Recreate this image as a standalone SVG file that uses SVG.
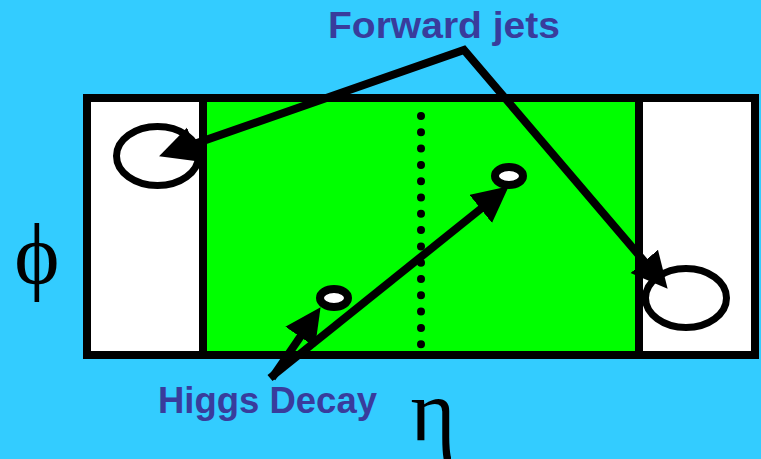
<svg xmlns="http://www.w3.org/2000/svg" width="761" height="459" viewBox="0 0 761 459">
  <style>
    .lbl { font-family: "Liberation Sans", "DejaVu Sans", sans-serif; font-weight: bold; font-size: 37px; fill: #393c9c; }
    .sym { font-family: "Liberation Serif", "DejaVu Serif", serif; font-size: 86px; fill: #000; text-anchor: middle; }
    .edge { fill: none; stroke: #000; stroke-width: 8; stroke-linejoin: miter; }
    .ring { fill: #fff; stroke: #000; stroke-width: 7; }
    .blob { fill: #fff; stroke: #000; stroke-width: 8; }
  </style>
  <defs>
    <marker id="ah" markerUnits="userSpaceOnUse" markerWidth="38" markerHeight="38" refX="15" refY="18" orient="auto-start-reverse">
      <path d="M0,0 L36,18 L0,36 z" fill="#000"/>
    </marker>
  </defs>
  <rect x="0" y="0" width="761" height="459" fill="#33ccff"/>

  <g id="detector">
    <rect x="87" y="98" width="668" height="257" fill="#fff"/>
    <rect x="203" y="98" width="436" height="257" fill="#00ff00"/>
    <rect x="87" y="98" width="668" height="257" fill="none" stroke="#000" stroke-width="8"/>
    <line x1="203" y1="98" x2="203" y2="355" stroke="#000" stroke-width="8"/>
    <line x1="639" y1="98" x2="639" y2="355" stroke="#000" stroke-width="8"/>
    <line x1="421" y1="116" x2="421" y2="346" stroke="#000" stroke-width="8" stroke-linecap="round" stroke-dasharray="0 16.3"/>
  </g>

  <g id="jet-left"><ellipse cx="157.5" cy="156" rx="41" ry="29.5" class="ring"/></g>
  <g id="jet-right"><ellipse cx="686" cy="298" rx="40.5" ry="29.5" class="ring"/></g>

  <g id="connectors">
    <path class="edge" d="M178.9,149.4 L464,50 L654,272.8" marker-start="url(#ah)" marker-end="url(#ah)"/>
    <path class="edge" d="M270,378 L492.4,199.5" marker-end="url(#ah)"/>
    <path class="edge" d="M272,378 L308.7,324.5" marker-end="url(#ah)"/>
  </g>

  <g id="decay-1"><ellipse cx="334" cy="298" rx="14" ry="9" class="blob"/></g>
  <g id="decay-2"><ellipse cx="509" cy="176" rx="14" ry="9" class="blob"/></g>

  <g id="label-forward"><text class="lbl" x="328" y="38" textLength="232" lengthAdjust="spacingAndGlyphs">Forward jets</text></g>
  <g id="label-higgs"><text class="lbl" x="158" y="413" textLength="219" lengthAdjust="spacingAndGlyphs">Higgs Decay</text></g>
  <g id="axis-phi"><text class="sym" x="37" y="283">ϕ</text></g>
  <g id="axis-eta"><text class="sym" x="433" y="440">η</text></g>
</svg>
